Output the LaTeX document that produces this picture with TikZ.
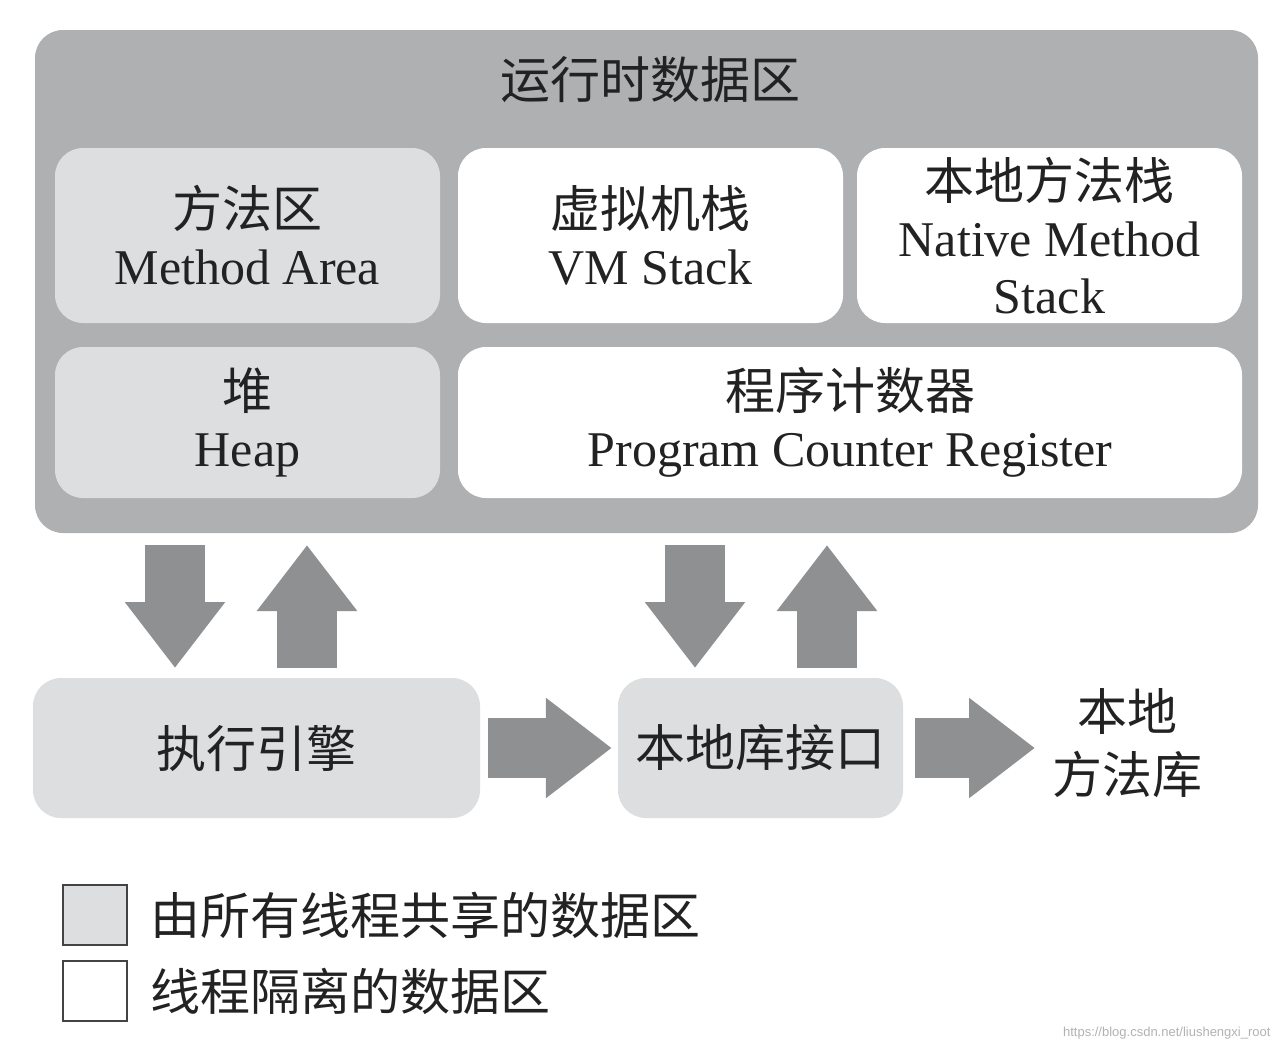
\documentclass[tikz,border=0pt]{standalone}
\usepackage{fontspec}
\setmainfont{Liberation Serif}
\newfontfamily\cjk{Noto Sans CJK SC}
\newfontfamily\markfont{Liberation Sans}
\usetikzlibrary{arrows.meta}
\definecolor{areagray}{HTML}{AEB0B2}
\definecolor{sharedgray}{HTML}{DCDEDF}
\definecolor{arrowgray}{HTML}{8E9092}
\definecolor{textdark}{HTML}{222222}
\tikzset{
  region/.style={rounded corners=28pt, inner sep=0pt, align=center, text=textdark, font=\fontsize{50}{57}\selectfont},
  shared/.style={region, fill=sharedgray},
  private/.style={region, fill=white},
  flow/.style={arrowgray, line width=60pt, -{Triangle[length=66pt,width=96pt]}},
  keybox/.style={draw=textdark!85, line width=2.5pt, minimum width=64pt, minimum height=60pt},
}

\begin{document}
\begin{tikzpicture}[x=1pt,y=-1pt]
\useasboundingbox[fill=white] (0,0) rectangle (1282,1052);

% runtime data area
\node[region, fill=areagray, minimum width=1223pt, minimum height=503pt] (rtda) at (646.5,281.5) {};
\node[region] (title) at (650,80) {\cjk 运行时数据区};
\node[shared, minimum width=385pt, minimum height=175pt] (method) at (247.5,235.5) {{\cjk 方法区}\\Method Area};
\node[private, minimum width=385pt, minimum height=175pt] (vmstack) at (650.5,235.5) {{\cjk 虚拟机栈}\\VM Stack};
\node[private, minimum width=385pt, minimum height=175pt] (native) at (1049.5,235.5) {{\cjk 本地方法栈}\\Native Method\\Stack};
\node[shared, minimum width=385pt, minimum height=151pt] (heap) at (247.5,422.5) {{\cjk 堆}\\Heap};
\node[private, minimum width=784pt, minimum height=151pt] (pc) at (850,422.5) {{\cjk 程序计数器}\\Program Counter Register};

% engine and native interface
\node[shared, minimum width=447pt, minimum height=140pt] (engine) at (256.5,748) {\cjk 执行引擎};
\node[shared, minimum width=285pt, minimum height=140pt] (nif) at (760.5,748) {\cjk 本地库接口};
\node[region] (nlib) at (1127,743) {\cjk 本地\\[6pt]\cjk 方法库};

% arrows
\coordinate (engdownA) at (175,545);
\coordinate (engdownB) at (175,668);
\coordinate (engupA) at (307,668);
\coordinate (engupB) at (307,545);
\coordinate (nifdownA) at (695,545);
\coordinate (nifdownB) at (695,668);
\coordinate (nifupA) at (827,668);
\coordinate (nifupB) at (827,545);
\coordinate (libin) at (1035,748);
\draw[flow] (engdownA) -- (engdownB);
\draw[flow] (engupA) -- (engupB);
\draw[flow] (nifdownA) -- (nifdownB);
\draw[flow] (nifupA) -- (nifupB);
\draw[flow, shorten <=8pt, shorten >=6pt] (engine.east) -- (nif.west);
\draw[flow, shorten <=12pt] (nif.east) -- (libin);

% legend
\node[keybox, fill=sharedgray] (keyshared) at (95,915) {};
\node[keybox, fill=white] (keyprivate) at (95,991) {};
\node[region, anchor=west] (txtshared) at (150,915) {\cjk 由所有线程共享的数据区};
\node[region, anchor=west] (txtprivate) at (150,991) {\cjk 线程隔离的数据区};

\node[anchor=east, text=black!30, font=\markfont\fontsize{13}{15}\selectfont] (mark) at (1274,1033) {https://blog.csdn.net/liushengxi\_root};
\end{tikzpicture}
\end{document}
